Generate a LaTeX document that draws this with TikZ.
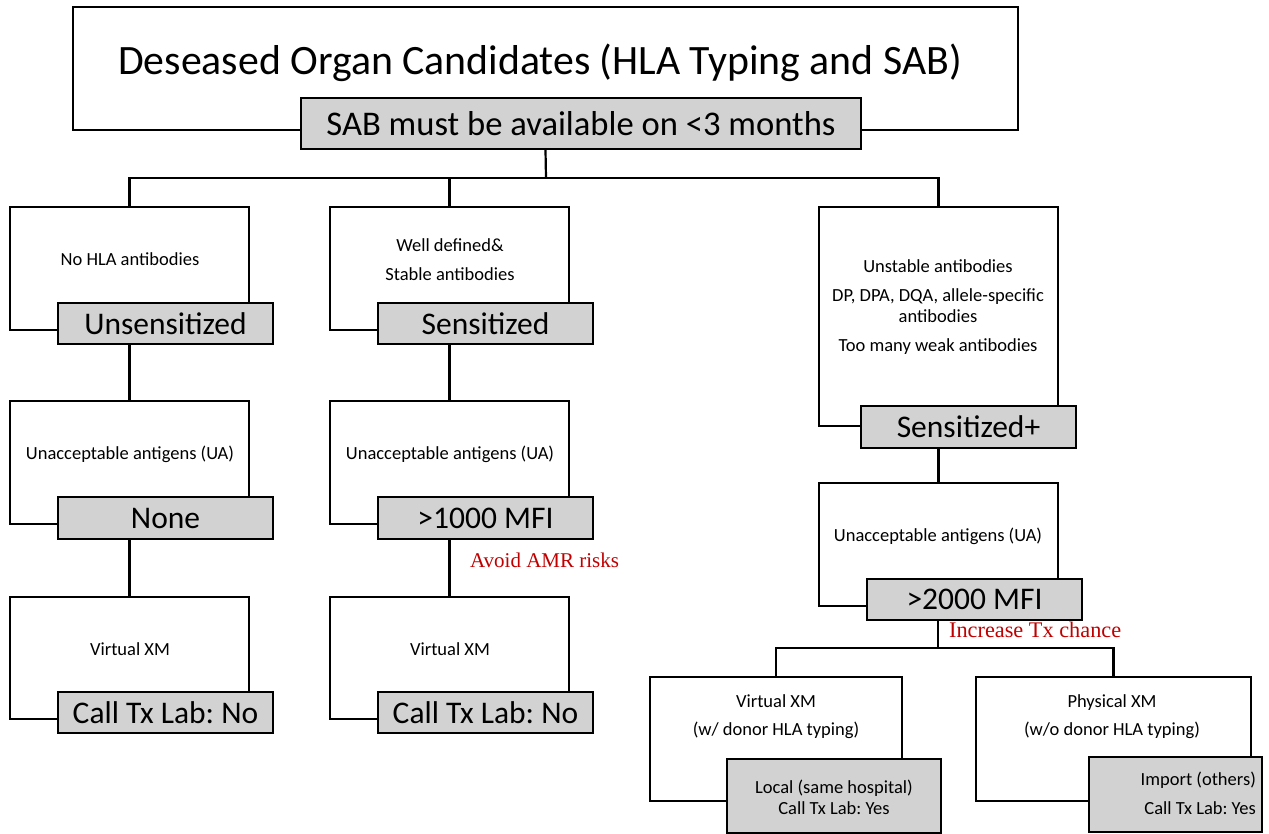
\documentclass[tikz,border=0pt]{standalone}
\usepackage{fontspec}
\setmainfont{Carlito}
\newfontfamily\notefont{Liberation Serif}
\usetikzlibrary{positioning}
\definecolor{tagfill}{RGB}{210,210,210}
\definecolor{notered}{RGB}{192,0,0}

\begin{document}
\frenchspacing
\begin{tikzpicture}[x=1pt, y=-1pt, line width=2.2pt,
  box/.style={draw, fill=white, minimum width=239pt, minimum height=123pt, inner sep=0pt},
  tag/.style={draw, fill=tagfill, minimum width=215pt, minimum height=41pt, inner sep=0pt, font=\fontsize{31.5}{36}\selectfont},
  txt/.style={font=\fontsize{18.5}{22}\selectfont, align=center, inner sep=0pt},
  note/.style={font=\notefont\fontsize{21}{24}\selectfont, text=notered, anchor=west, inner sep=0pt}]
 \useasboundingbox (0,0) rectangle (1269,834);

 % header
 \node[draw, minimum width=945pt, minimum height=123pt] (title) at (545.5,68.5) {};
 \node[font=\fontsize{41.8}{48}\selectfont, inner sep=0pt] (titletxt) at (540,63) {Deseased Organ Candidates (HLA Typing and SAB)};
 \node[tag, minimum width=560pt, minimum height=51pt, font=\fontsize{34.6}{40}\selectfont] (sab) at (581,123.5) {SAB must be available on <3 months};

 % left column
 \node[box] (noab) at (129.5,268.5) {};
 \node[txt] (noabtxt) at (130,259) {No HLA antibodies};
 \node[tag] (unsens) at (165.5,323.5) {Unsensitized};
 \node[box] (uaa) at (129.5,462.5) {};
 \node[txt] (uaatxt) at (130,454) {Unacceptable antigens (UA)};
 \node[tag, minimum height=42pt] (none) at (165.5,518) {None};
 \node[box, minimum height=122pt] (vxma) at (129.5,658) {};
 \node[txt] (vxmatxt) at (130,649) {Virtual XM};
 \node[tag] (nocalla) at (165.5,712.5) {Call Tx Lab: No};

 % middle column
 \node[box] (stab) at (449.5,268.5) {};
 \node[txt, font=\fontsize{18.5}{29}\selectfont] (stabtxt) at (450,259.5) {Well defined\&\\Stable antibodies};
 \node[tag] (sens) at (485.5,323.5) {Sensitized};
 \node[box] (uab) at (449.5,462.5) {};
 \node[txt] (uabtxt) at (450,454) {Unacceptable antigens (UA)};
 \node[tag, minimum height=42pt] (mfia) at (485.5,518) {>1000 MFI};
 \node[note] (amr) at (469,560) {Avoid AMR risks};
 \node[box, minimum height=122pt] (vxmb) at (449.5,658) {};
 \node[txt] (vxmbtxt) at (450,649) {Virtual XM};
 \node[tag] (nocallb) at (485.5,712.5) {Call Tx Lab: No};

 % right column
 \node[box, minimum height=219pt] (unst) at (938.5,316.5) {};
 \node[txt, font=\fontsize{18.5}{21.5}\selectfont] (unsttxt) at (938,307) {Unstable antibodies\\[7pt]DP, DPA, DQA, allele-specific\\antibodies\\[7pt]Too many weak antibodies};
 \node[tag, minimum height=42pt] (sensp) at (968.5,427) {Sensitized+};
 \node[box] (uac) at (938.5,544.5) {};
 \node[txt] (uactxt) at (938,536) {Unacceptable antigens (UA)};
 \node[tag] (mfib) at (974.5,599.5) {>2000 MFI};
 \node[note, font=\notefont\fontsize{22.3}{25}\selectfont] (txchance) at (948,630) {Increase Tx chance};
 \node[box, minimum width=252pt, minimum height=124pt] (vxmc) at (776,739) {};
 \node[txt, font=\fontsize{18.5}{28}\selectfont] (vxmctxt) at (776,717) {Virtual XM\\(w/ donor HLA typing)};
 \node[tag, minimum width=214pt, minimum height=74pt] (local) at (834,796) {};
 \node[txt, font=\fontsize{18.5}{21}\selectfont] (localtxt) at (834,797.5) {Local (same hospital)\\Call Tx Lab: Yes};
 \node[box, minimum width=275pt, minimum height=124pt] (pxm) at (1113.5,739) {};
 \node[txt, font=\fontsize{18.5}{28}\selectfont] (pxmtxt) at (1112,717) {Physical XM\\(w/o donor HLA typing)};
 \node[tag, minimum width=173pt, minimum height=75pt] (import) at (1175.5,794.5) {};
 \node[txt, font=\fontsize{18.5}{29}\selectfont, align=right, anchor=east] (importtxt) at (1257,793.5) {Import (others)\\Call Tx Lab: Yes};

 % connectors
 \coordinate (busa) at (546,178);
 \coordinate (busb) at (938,648);
 \draw (title.south |- sab.south) -- (busa);
 \draw (noab.north) -- (noab.north |- busa) -- (unst.north |- busa) -- (unst.north);
 \draw (stab.north) -- (stab.north |- busa);
 \draw (unsens.south -| uaa.north) -- (uaa.north);
 \draw (none.south -| vxma.north) -- (vxma.north);
 \draw (sens.south -| uab.north) -- (uab.north);
 \draw (mfia.south -| vxmb.north) -- (vxmb.north);
 \draw (sensp.south -| uac.north) -- (uac.north);
 \draw (mfib.south -| busb) -- (busb);
 \draw (vxmc.north) -- (vxmc.north |- busb) -- (pxm.north |- busb) -- (pxm.north);
\end{tikzpicture}
\end{document}
